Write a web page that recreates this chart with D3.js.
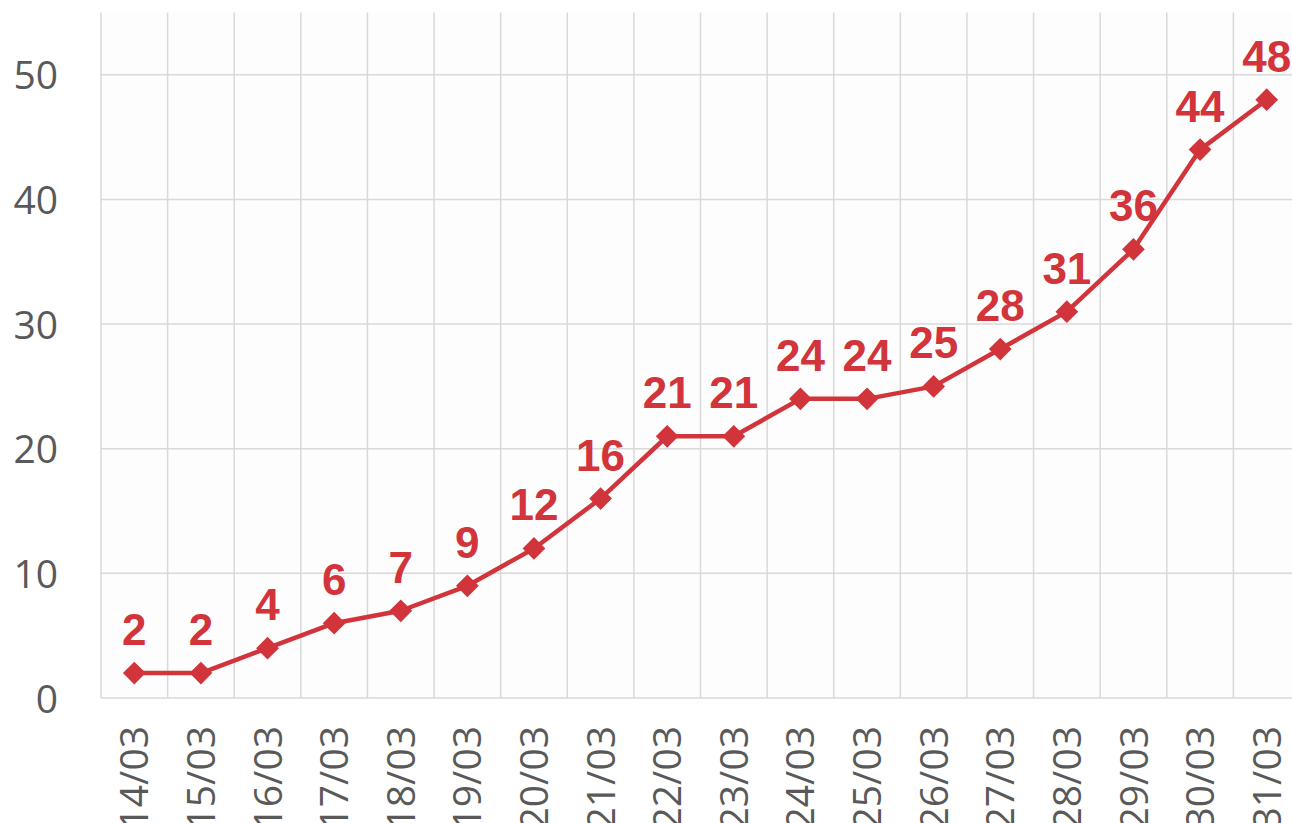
<!DOCTYPE html>
<html><head><meta charset="utf-8">
<script src="https://cdn.jsdelivr.net/npm/d3@7"></script>
<style>body{margin:0;background:#fff;overflow:hidden}</style>
</head><body>
<svg id="c" width="1292" height="823"></svg>
<script>
const categories = ["14/03","15/03","16/03","17/03","18/03","19/03","20/03","21/03","22/03","23/03","24/03","25/03","26/03","27/03","28/03","29/03","30/03","31/03"];
const values = [2,2,4,6,7,9,12,16,21,21,24,24,25,28,31,36,44,48];
const yTicks = [0,10,20,30,40,50];

const svg = d3.select("#c");
const pLeft = 101, pRight = 1300, pTop = 12.5, pBottom = 698;
const x = d3.scaleBand().domain(categories).range([pLeft, pRight]).padding(0);
const y = d3.scaleLinear().domain([0,55]).range([pBottom, pTop]);
const red = "#d1343a", grid = "#d9d9d9", txt = "#595959";

svg.append("rect").attr("x",pLeft).attr("y",pTop).attr("width",pRight-pLeft).attr("height",pBottom-pTop).attr("fill","#fdfdfd");

// horizontal gridlines
svg.append("g").selectAll("line").data(yTicks).join("line")
  .attr("x1",pLeft).attr("x2",pRight).attr("y1",d=>y(d)).attr("y2",d=>y(d))
  .attr("stroke",grid).attr("stroke-width",1.5);
// vertical gridlines (category boundaries)
svg.append("g").selectAll("line").data(categories).join("line")
  .attr("x1",d=>x(d)).attr("x2",d=>x(d)).attr("y1",pTop).attr("y2",pBottom)
  .attr("stroke",grid).attr("stroke-width",1.5);

// y axis labels
const yAxis = d3.axisLeft(y).tickValues(yTicks).tickSize(0).tickPadding(0);
const gy = svg.append("g").attr("transform",`translate(58,0)`).call(yAxis);
gy.select(".domain").remove();
gy.selectAll("text").attr("fill",txt).style("font-family","'Open Sans','Liberation Sans',sans-serif").style("font-size","39px").attr("dy","0.36em");

// x axis labels
const xAxis = d3.axisBottom(x).tickSize(0).tickPadding(0);
const gx = svg.append("g").attr("transform",`translate(0,${pBottom})`).call(xAxis);
gx.select(".domain").remove();
gx.selectAll("text").attr("fill",txt).style("font-family","'Open Sans','Liberation Sans',sans-serif").style("font-size","39px")
  .attr("text-anchor","end").attr("transform","rotate(-90)").attr("x",-28).attr("y",0).attr("dy","0.36em");

const cx = d => x(d) + x.bandwidth()/2;
const pts = categories.map((c,i)=>({c, v: values[i]}));

svg.append("path").datum(pts)
  .attr("d", d3.line().x(d=>cx(d.c)).y(d=>y(d.v)))
  .attr("fill","none").attr("stroke",red).attr("stroke-width",4.5).attr("stroke-linejoin","round");

svg.append("g").selectAll("path").data(pts).join("path")
  .attr("d", d3.symbol(d3.symbolDiamond2, 330))
  .attr("transform", d=>`translate(${cx(d.c)},${y(d.v)})`)
  .attr("fill",red);

svg.append("g").selectAll("text").data(pts).join("text")
  .attr("x",d=>cx(d.c)).attr("y",d=>y(d.v)-28)
  .attr("text-anchor","middle").attr("fill",red)
  .style("font-family","'Liberation Sans',Arial,sans-serif").style("font-weight","bold").style("font-size","44px")
  .text(d=>d.v);
</script>
</body></html>
